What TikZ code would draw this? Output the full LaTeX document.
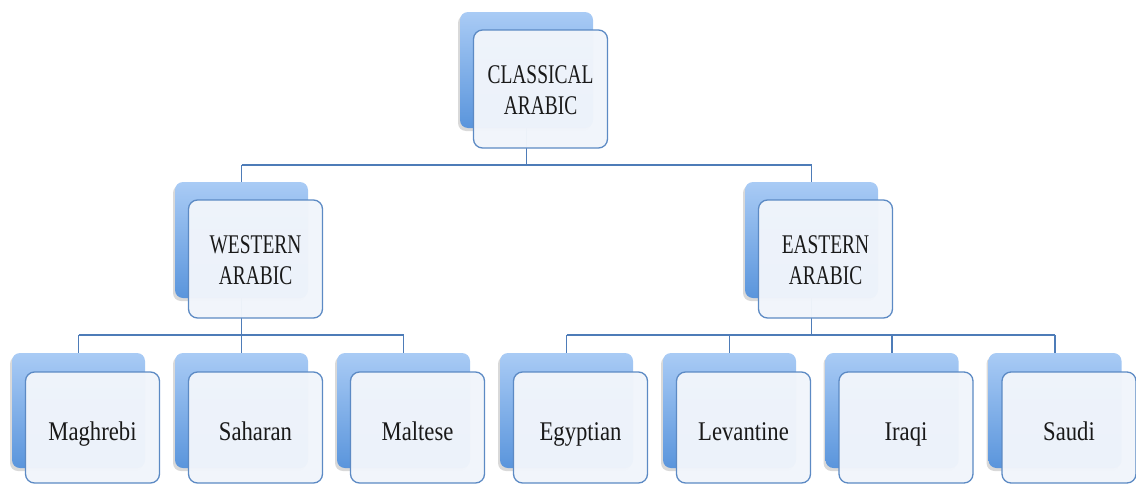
\documentclass[tikz,border=0pt]{standalone}
\usepackage{fontspec}
\setmainfont{Liberation Serif}
\usetikzlibrary{shadows}
\definecolor{backtop}{HTML}{A9CBF5}
\definecolor{backbot}{HTML}{5A95DC}
\definecolor{frontfill}{HTML}{F1F5FB}
\definecolor{frontline}{HTML}{5C8AC4}
\definecolor{conn}{HTML}{4E7CB8}
\pgfdeclarelayer{bg}
\pgfsetlayers{bg,main}
\newcommand{\captxt}[1]{\raisebox{-4pt}[\height][\depth]{\scalebox{0.72}[1]{\begin{tabular}{@{}c@{}}#1\end{tabular}}}}
\newcommand{\lowtxt}[1]{\raisebox{-7pt}[\height][\depth]{\scalebox{0.84}[1]{\vphantom{Mg}#1}}}
\tikzset{
  backbox/.style={rectangle, rounded corners=8pt, inner sep=0pt,
    minimum width=133pt, minimum height=116pt,
    top color=backtop, bottom color=backbot, draw=none,
    drop shadow={shadow xshift=-2pt, shadow yshift=-3pt, opacity=0.3}},
  backboxlow/.style={backbox, minimum height=115pt},
  frontbox/.style={rectangle, rounded corners=9pt, inner sep=0pt,
    minimum width=134pt, minimum height=118pt,
    fill=frontfill, fill opacity=0.97, text opacity=1,
    draw=frontline, line width=1.3pt,
    font=\fontsize{27}{31}\selectfont, text=black!90},
  frontboxlow/.style={frontbox, minimum height=111pt},
  connector/.style={draw=conn, line width=1.2pt}
}
\begin{document}
\begin{tikzpicture}[x=1pt,y=-1pt]
\useasboundingbox (0,0) rectangle (1136,485);
% level 1
\node[backbox] (cb) at (526.5,70) {};
\node[frontbox] (cf) at (540.5,89) {\captxt{CLASSICAL\\ARABIC}};
% level 2
\node[backbox] (wb) at (241.5,240) {};
\node[frontbox] (wf) at (255.5,259) {\captxt{WESTERN\\ARABIC}};
\node[backbox] (eb) at (811.5,240) {};
\node[frontbox] (ef) at (825.5,259) {\captxt{EASTERN\\ARABIC}};
% level 3
\foreach \nm/\xx/\lab in {mag/78.5/Maghrebi, sah/241.5/Saharan, mal/403.5/Maltese,
  egy/566.5/Egyptian, lev/729.5/Levantine, ira/892/Iraqi, sau/1055/Saudi}{
  \node[backboxlow] (\nm b) at (\xx,410.5) {};
  \node[frontboxlow] (\nm f) at ({\xx+14},427.5) {\lowtxt{\lab}};
}
% connectors
\begin{pgfonlayer}{bg}
\coordinate (h1) at (0,165);
\coordinate (h2) at (0,335);
\draw[connector] (cb.center) -- (cb.center |- h1);
\draw[connector] (wb.center |- h1) -- (eb.center |- h1);
\draw[connector] (wb.center |- h1) -- (wb.center);
\draw[connector] (eb.center |- h1) -- (eb.center);
\draw[connector] (wb.center) -- (wb.center |- h2);
\draw[connector] (magb.center |- h2) -- (malb.center |- h2);
\foreach \nm in {mag,sah,mal}{\draw[connector] (\nm b.center |- h2) -- (\nm b.center);}
\draw[connector] (eb.center) -- (eb.center |- h2);
\draw[connector] (egyb.center |- h2) -- (saub.center |- h2);
\foreach \nm in {egy,lev,ira,sau}{\draw[connector] (\nm b.center |- h2) -- (\nm b.center);}
\end{pgfonlayer}
\end{tikzpicture}
\end{document}
